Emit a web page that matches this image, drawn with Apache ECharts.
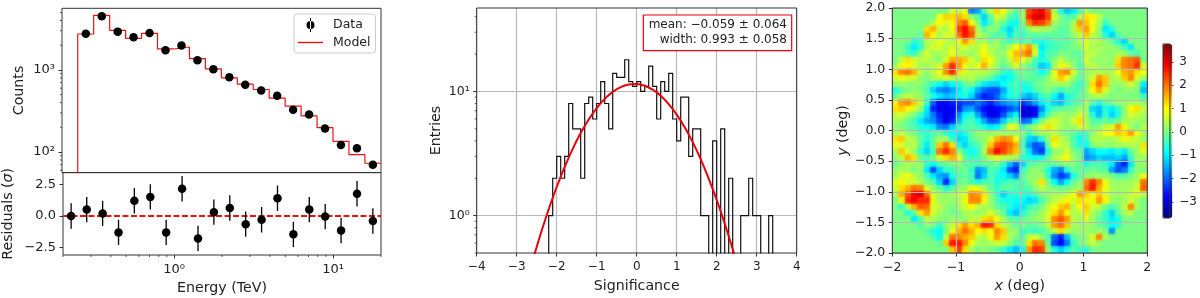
<!DOCTYPE html>
<html><head><meta charset="utf-8">
<style>html,body{margin:0;padding:0;background:#fff}#c{width:1200px;height:298px}</style>
<script src="https://cdn.jsdelivr.net/npm/echarts@6/dist/echarts.min.js"></script>
</head><body><div id="c"></div>
<script>
// ---------- Spectrum panel ----------
const binEdges = [0.251,0.316,0.398,0.501,0.631,0.794,1.0,1.259,1.585,1.995,2.512,3.162,3.981,5.012,6.31,7.943,10,12.59,15.85,20];
const modelCounts = [2735,4613,3033,2425,2786,1798,1900,1372,1028,800,670,577,453,362,276,198,135,93,73];
const dataEnergy = [0.282,0.355,0.447,0.562,0.708,0.891,1.122,1.413,1.778,2.239,2.818,3.548,4.467,5.623,7.079,8.913,11.22,14.13,17.78];
const dataCounts = [2761,4487,2924,2494,2812,1734,1977,1310,1019,815,658,561,483,327,286,194,122,111,70];
const residEnergy = [0.225,0.282,0.355,0.447,0.562,0.708,0.891,1.122,1.413,1.778,2.239,2.818,3.548,4.467,5.623,7.079,8.913,11.22,14.13,17.78];
const residuals = [0,0.5,0.2,-1.3,1.2,1.5,-1.3,2.15,-1.77,0.3,0.63,-0.65,-0.3,1.4,-1.45,0.5,-0.05,-1.15,1.75,-0.4];
const residErr = 1;
const energyMajorTicks = [1,10];
const energyMinorTicks = [0.2,0.3,0.4,0.5,0.6,0.7,0.8,0.9,2,3,4,5,6,7,8,9,20];
const countMajorTicks = [100,1000];
const countMinorTicks = [60,70,80,90,200,300,400,500,600,700,800,900,2000,3000,4000,5000];
const residTicks = [-2.5,0,2.5];
// ---------- Significance histogram ----------
const histStart = -2.2, histBinWidth = 0.1;
const histCounts = [1,2,3,2,3,8,5,5,2,8,9,6,8,12,8,5,14,13,13,18,12,11,12,10,11,16,11,6,12,10,14,6,4,9,9,3,5,5,1,1,0,4,0,5,0,2,0,0,1,1,2,1,1,0,0,1];
const fitX = [-2.6,-2.4,-2.2,-2,-1.8,-1.6,-1.4,-1.2,-1,-0.8,-0.6,-0.4,-0.2,0,0.2,0.4,0.6,0.8,1,1.2,1.4,1.6,1.8,2,2.2,2.4,2.6];
const fitY = [0.435,0.714,1.125,1.70,2.47,3.45,4.62,5.94,7.34,8.71,9.92,10.84,11.39,11.48,11.12,10.33,9.23,7.91,6.51,5.15,3.91,2.85,1.99,1.34,0.865,0.536,0.319];
const entryMajorTicks = [1,10];
const entryMinorTicks = [0.5,0.6,0.7,0.8,0.9,2,3,4,5,6,7,8,9,20,30,40];
const fitBoxLines = ['mean: \u22120.059 \u00b1 0.064','width: 0.993 \u00b1 0.058'];
// ---------- Significance map: estimates, cell size 0.1 deg, top row first, left column first ----------
const mapTenths = [
[0,0,0,0,0,0,0,0,0,8,5,10,-22,-18,-4,6,15,10,3,-3,2,28,32,34,26,4,-8,-15,-12,-4,4,0,0,0,0,0,0,0,0,0],
[0,0,0,0,0,0,0,10,15,15,18,14,2,-3,-14,-2,8,5,-3,-6,3,30,36,36,28,8,0,-4,-3,5,14,12,6,0,0,0,0,0,0,0],
[0,0,0,0,0,0,5,12,8,12,22,26,12,0,-12,-4,3,-2,-8,-10,0,22,30,28,22,3,0,-2,4,20,16,10,4,-6,0,0,0,0,0,0],
[0,0,0,0,0,14,18,6,5,10,28,33,24,4,-3,2,0,-8,-14,-6,-4,2,6,4,3,0,-3,-2,5,16,20,10,2,-12,-8,0,0,0,0,0],
[0,0,0,0,-2,18,12,4,8,8,24,32,26,6,2,-2,-4,-3,-12,-4,-6,-2,-3,-2,-3,-2,-3,-2,2,6,16,6,2,-8,-14,-4,0,0,0,0],
[0,0,0,-8,-4,5,6,9,6,4,12,20,14,3,5,0,3,-2,-5,-2,-4,-2,-8,-8,-6,-4,-2,-3,0,4,8,5,4,2,-2,-8,-14,0,0,0],
[0,0,-6,-12,-6,4,8,8,5,8,6,8,5,6,10,4,3,0,5,12,14,20,6,-12,-6,-5,-3,-2,0,2,8,4,4,3,2,0,-5,-12,0,0],
[0,0,-4,-6,2,8,3,4,5,10,5,4,2,6,12,6,2,2,10,17,20,24,8,-10,-4,-3,0,0,-2,-2,5,6,3,2,2,4,3,-2,-4,0],
[0,6,14,8,5,6,4,2,8,18,18,16,8,4,14,10,4,0,6,15,10,4,-4,-8,-5,2,6,2,0,-2,8,3,2,3,2,14,22,24,26,0],
[3,10,12,8,4,3,5,8,20,30,20,10,6,10,18,8,3,-3,2,8,2,-2,-6,-15,-12,3,10,8,2,-4,4,6,3,2,3,16,22,24,30,8],
[14,22,24,18,6,2,6,10,22,30,14,8,6,5,6,3,0,-6,-8,-2,0,-2,-4,-10,-4,10,20,22,8,-1,2,4,5,4,4,10,18,20,14,10],
[8,10,8,8,2,0,4,6,8,6,4,4,5,2,0,-3,-8,-12,-10,-5,-2,-2,-3,-3,2,8,16,10,3,-3,2,8,20,16,4,6,16,22,8,3],
[2,3,2,1,2,-2,-6,-10,-14,-10,-8,-2,0,-6,-12,-14,-14,-10,-6,-4,-8,-6,-2,0,2,3,4,3,-2,-6,0,14,24,16,3,2,4,8,2,-12],
[-8,-3,0,2,0,-4,-14,-20,-22,-18,-12,-6,-10,-18,-24,-26,-26,-18,-8,-5,-8,-10,-4,-2,2,-3,-6,-2,-4,-4,2,12,18,8,2,0,2,2,0,-16],
[-3,3,6,4,2,-3,-8,-12,-16,-14,-10,-8,-14,-24,-30,-28,-24,-14,-8,-6,-14,-18,-14,-6,-4,-10,-18,-8,-5,-2,0,4,6,3,0,2,0,0,0,-6],
[12,20,22,16,6,-6,-24,-32,-32,-30,-28,-26,-26,-22,-26,-30,-24,-20,-18,-16,-28,-24,-18,-12,-8,-14,-16,-8,-4,-2,4,-3,-8,-3,0,2,3,4,4,2],
[14,16,12,8,2,-12,-30,-34,-34,-32,-30,-20,-18,-26,-32,-34,-32,-30,-26,-22,-34,-36,-32,-20,-8,-4,-2,-1,0,3,2,-14,-16,-8,-12,-6,2,12,14,6],
[6,8,4,0,-6,-14,-22,-30,-34,-32,-20,-10,-8,-18,-28,-34,-34,-26,-16,-10,-34,-36,-34,-14,-4,2,4,2,3,8,4,-8,-16,-6,-14,-8,2,8,6,4],
[4,2,-2,-5,-12,-18,-20,-28,-34,-30,-16,-6,-4,-10,-18,-26,-24,-14,-4,-2,-24,-22,-10,0,6,8,5,2,8,14,4,-3,-4,-2,-4,0,4,4,3,2],
[2,0,-2,-4,-8,-10,-12,-20,-22,-14,-6,-4,-3,-5,-8,-12,-10,-2,10,8,-6,0,4,8,14,8,4,2,3,8,6,0,2,6,8,20,12,3,0,5],
[4,6,2,0,-4,-6,-3,-2,-6,-10,-12,-8,-2,2,3,2,4,3,3,2,2,-6,0,4,4,6,2,0,-2,-6,-4,2,6,10,12,16,14,20,10,4],
[14,16,6,4,-2,-8,-2,4,3,-6,-14,-12,-3,0,2,8,18,22,20,12,-3,-14,-16,-8,2,14,6,3,-4,-10,-6,4,5,4,4,6,10,8,6,2],
[10,8,4,6,-3,-12,-2,16,24,14,-8,-14,-6,-4,3,16,26,28,24,18,-4,-18,-26,-24,-2,10,6,5,-3,-8,-10,0,3,2,2,4,4,5,4,14],
[4,16,8,2,-6,-14,-4,24,30,22,2,-6,-10,-6,4,24,34,28,22,16,-2,-12,-24,-28,-8,2,3,8,0,-2,-18,-14,-10,-10,-12,-8,-12,-2,3,8],
[2,6,18,14,-2,-4,0,8,14,18,12,-3,-6,-4,0,6,8,6,5,4,-6,-8,-10,-8,-2,4,8,12,3,-1,-20,-18,-14,-16,-16,-14,-18,-6,3,2],
[-2,2,4,3,2,-6,-10,-3,-2,0,2,-2,-3,-4,-2,-3,0,-6,-16,-24,-14,-4,-2,0,-2,-2,0,2,1,-2,-8,-4,-4,-6,-12,-24,-30,-12,2,3],
[2,4,3,0,2,-12,-26,-14,-6,-5,-2,-1,-6,-20,-16,-3,-6,-12,-26,-30,-6,0,3,0,-8,-18,-22,-8,-2,-2,-2,0,-2,-3,-18,-26,-22,-6,2,0],
[4,8,10,6,2,-4,-12,-18,-20,-8,-3,-2,-5,-22,-14,-4,-8,-10,-14,-20,-3,2,2,3,-6,-20,-28,-24,-8,-2,2,3,3,2,0,-3,-3,0,3,10],
[8,12,8,8,4,0,-4,-14,-30,-14,-2,0,-4,-8,-4,-3,-8,-6,-4,-4,-4,0,4,14,0,-10,-18,-10,-2,2,22,30,22,10,3,2,3,3,6,24],
[6,14,18,24,22,8,2,-2,-8,-4,2,3,10,10,4,-2,-6,-2,-2,-4,-4,-3,2,6,2,0,-2,0,2,4,24,32,18,10,4,3,3,4,8,26],
[5,18,26,34,36,24,8,3,2,4,6,8,22,20,14,2,-6,-14,-8,-6,-6,-8,-4,0,2,4,4,6,10,20,16,10,16,8,4,3,4,6,8,6],
[0,10,30,34,30,30,10,3,3,2,4,10,22,22,12,2,-4,-8,-8,-10,-10,-14,-12,-4,2,6,8,12,8,14,12,10,20,12,3,2,4,8,3,0],
[0,-6,6,18,26,24,8,6,2,0,4,8,12,6,4,3,-2,-4,-8,-12,-12,-6,-3,0,6,10,16,18,5,12,16,8,6,0,-4,0,6,22,4,0],
[0,0,-8,-2,14,20,8,3,2,-1,0,4,4,2,4,8,3,-2,-12,-16,-8,-2,0,3,8,14,20,12,4,6,14,4,0,-6,-14,-3,4,6,0,0],
[0,0,0,-12,-3,6,4,2,0,3,2,2,6,6,14,16,10,3,-2,-4,-2,0,2,4,8,22,26,20,6,4,8,3,-2,-6,-12,-8,0,0,0,0],
[0,0,0,0,-4,2,0,-6,2,6,14,20,14,18,32,30,14,6,2,-2,0,-2,-2,0,6,20,24,16,4,2,4,2,-2,-4,-10,-8,0,0,0,0],
[0,0,0,0,0,-3,-8,-10,0,10,18,24,18,12,14,10,22,16,3,2,-6,-4,-6,-3,0,6,14,6,2,3,3,2,4,0,-20,0,0,0,0,0],
[0,0,0,0,0,0,-4,-10,6,24,22,18,16,6,4,12,20,14,4,0,-3,6,8,2,-4,-24,-30,-16,-3,0,2,8,22,4,0,0,0,0,0,0],
[0,0,0,0,0,0,0,-2,16,32,32,22,10,4,3,4,8,6,2,-4,-2,14,24,22,-2,-26,-32,-22,-6,0,3,6,2,0,0,0,0,0,0,0],
[0,0,0,0,0,0,0,0,0,16,28,14,4,0,2,0,-2,-6,-12,-16,-10,20,30,28,2,-8,-14,-8,-3,-6,-8,0,0,0,0,0,0,0,0,0]
];
const mapXStart = -2, mapYTop = 2, mapCell = 0.1, mapUnit = 0.085;
const colorMin = -3.69, colorMax = 3.77;
const colorbarTicks = [-3,-2,-1,0,1,2,3];
const jetColors = ['#00007f','#0000ff','#007fff','#00ffff','#7fff7f','#ffff00','#ff7f00','#ff0000','#7f0000'];

const axisColor = '#333', textColor = '#222', gridGrey = '#b8b8b8', FONT = 'DejaVu Sans', RED = '#ee1111';
const nameFS = 14.2;
const minus = v => String(v).replace('-', '\u2212');
const sup = {1:'10\u2070',10:'10\u00b9',100:'10\u00b2',1000:'10\u00b3'};
const lbl = (fontSize,margin) => ({color:textColor,fontFamily:FONT,fontSize,margin});
const nm = {color:textColor,fontFamily:FONT,fontSize:nameFS};
const noLine = {show:false,onZero:false};
const tick = {length:3.5,lineStyle:{color:axisColor,width:1}};

const modelLine = [[binEdges[0],30]];
modelCounts.forEach((c,i)=>{modelLine.push([binEdges[i],c]);modelLine.push([binEdges[i+1],c]);});
const histLine = [[histStart,0.01]];
histCounts.forEach((c,i)=>{
  const a = +(histStart+i*histBinWidth).toFixed(1), b = +(histStart+(i+1)*histBinWidth).toFixed(1);
  const y = c>0?c:0.01; histLine.push([a,y]); histLine.push([b,y]);
});
histLine.push([+(histStart+histCounts.length*histBinWidth).toFixed(1),0.01]);
const mapData = [];
mapTenths.forEach((row,r)=>row.forEach((v,c)=>{mapData.push([mapXStart+c*mapCell,mapYTop-r*mapCell,v*mapUnit]);}));

function minorTicks(ax, dim, values, len){
  return {type:'custom',xAxisIndex:ax,yAxisIndex:ax,silent:true,clip:false,z:6,
    encode:dim==='x'?{x:0}:{y:0},
    data:values.map(v=>[v]),
    renderItem(p,api){
      const cs=p.coordSys, v=api.value(0);
      let pt,shape;
      if(dim==='x'){pt=api.coord([v,1]);shape={x1:pt[0],y1:cs.y+cs.height,x2:pt[0],y2:cs.y+cs.height+len};}
      else{pt=api.coord([1,v]);shape={x1:cs.x,y1:pt[1],x2:cs.x-len,y2:pt[1]};}
      return {type:'line',shape,style:{stroke:axisColor,lineWidth:0.8}};
    }};
}
const g = (left,top,width,height,z)=>({left,top,width,height,show:true,borderColor:axisColor,borderWidth:1,backgroundColor:'transparent',z:z||2,containLabel:false});

const option = {
  animation:false,
  textStyle:{fontFamily:FONT},
  legend:{show:true,left:294,top:14,orient:'vertical',padding:[4,5,4,4],itemGap:4,itemWidth:25,itemHeight:14,
    backgroundColor:'rgba(255,255,255,0.8)',borderColor:'#ccc',borderWidth:1,borderRadius:3,
    textStyle:{color:textColor,fontFamily:FONT,fontSize:12.5,padding:[0,0,0,5]},
    data:[{name:'Data',icon:'path://M3.5 0h1v14h-1z M4 3a4 4 0 1 0 0.001 0z'},{name:'Model',icon:'path://M0 0h25v1.4h-25z'}]},
  grid:[g(62,8.3,319,164.3),g(62,172.6,319,82.4),g(476.7,8,320,247),g(892.3,8,255,247,5),g(1163,44,9.3,174,5)],
  xAxis:[
    {gridIndex:0,type:'log',logBase:10,min:0.2,max:20,axisLabel:{show:false},axisTick:{show:false},axisLine:noLine,splitLine:{show:false},minorTick:{show:false}},
    {gridIndex:1,type:'log',logBase:10,min:0.2,max:20,name:'Energy (TeV)',nameLocation:'middle',nameGap:26,nameTextStyle:nm,
     axisLine:noLine,axisTick:{...tick,customValues:energyMajorTicks},minorTick:{show:false},splitLine:{show:false},
     axisLabel:{...lbl(13,8),customValues:energyMajorTicks,formatter:v=>sup[Math.round(v)]||''}},
    {gridIndex:2,type:'value',min:-4,max:4,interval:1,name:'Significance',nameLocation:'middle',nameGap:26,nameTextStyle:nm,
     axisLine:noLine,axisTick:tick,axisLabel:{...lbl(12,8),formatter:minus},splitLine:{show:true,lineStyle:{color:gridGrey,width:1.2}}},
    {gridIndex:3,type:'value',min:-2,max:2,interval:1,z:3,name:'{i|x} (deg)',nameLocation:'middle',nameGap:26,
     nameTextStyle:{...nm,rich:{i:{...nm,fontStyle:'italic'}}},
     axisLine:noLine,axisTick:tick,axisLabel:{...lbl(12.5,8),formatter:minus},splitLine:{show:true,lineStyle:{color:gridGrey,width:1.2}}},
    {gridIndex:4,type:'value',min:0,max:1,show:false}
  ],
  yAxis:[
    {gridIndex:0,type:'log',logBase:10,min:56.2,max:5623,name:'Counts',nameLocation:'middle',nameGap:36,nameTextStyle:nm,
     axisLine:noLine,axisTick:{...tick,customValues:countMajorTicks},minorTick:{show:false},splitLine:{show:false},
     axisLabel:{...lbl(13,7),customValues:countMajorTicks,formatter:v=>sup[Math.round(v)]||''}},
    {gridIndex:1,type:'value',min:-3.08,max:3.42,name:'Residuals ({i|\u03c3})',nameLocation:'middle',nameGap:48,
     nameTextStyle:{...nm,rich:{i:{...nm,fontStyle:'italic'}}},
     axisLine:noLine,axisTick:{...tick,customValues:residTicks},splitLine:{show:false},
     axisLabel:{...lbl(13,7),customValues:residTicks,formatter:v=>minus(Number(v).toFixed(1))}},
    {gridIndex:2,type:'log',logBase:10,min:0.5,max:47,name:'Entries',nameLocation:'middle',nameGap:33,nameTextStyle:nm,
     axisLine:noLine,axisTick:{...tick,customValues:entryMajorTicks},minorTick:{show:false},
     splitLine:{show:true,lineStyle:{color:gridGrey,width:1.2}},
     axisLabel:{...lbl(12.5,7),customValues:entryMajorTicks,formatter:v=>sup[Math.round(v)]||''}},
    {gridIndex:3,type:'value',min:-2,max:2,interval:0.5,z:3,name:'{i|y} (deg)',nameLocation:'middle',nameGap:42,
     nameTextStyle:{...nm,rich:{i:{...nm,fontStyle:'italic'}}},
     axisLine:noLine,axisTick:tick,axisLabel:{...lbl(12.5,7),formatter:v=>minus(Number(v).toFixed(1))},splitLine:{show:true,lineStyle:{color:gridGrey,width:1.2}}},
    {gridIndex:4,type:'value',position:'right',min:colorMin,max:colorMax,axisLine:noLine,
     axisTick:{...tick,customValues:colorbarTicks},splitLine:{show:false},
     axisLabel:{...lbl(12,9.4),align:'left',customValues:colorbarTicks,formatter:minus}}
  ],
  visualMap:{type:'continuous',seriesIndex:[6,11],dimension:2,min:colorMin,max:colorMax,left:1163,top:44,itemWidth:9.3,itemHeight:174,
    padding:0,calculable:false,hoverLink:false,text:null,showLabel:false,inRange:{color:jetColors}},
  series:[
    {name:'Model',type:'line',xAxisIndex:0,yAxisIndex:0,data:modelLine,showSymbol:false,symbol:'none',clip:true,z:2,lineStyle:{color:RED,width:1.2},itemStyle:{color:RED}},
    {name:'Data',type:'scatter',xAxisIndex:0,yAxisIndex:0,data:dataEnergy.map((e,i)=>[e,dataCounts[i]]),symbolSize:8.5,itemStyle:{color:'#000',opacity:1},z:3,clip:true},
    {name:'zero',type:'line',xAxisIndex:1,yAxisIndex:1,data:[[0.2,0],[20,0]],showSymbol:false,symbol:'none',z:2,lineStyle:{color:RED,width:2,type:[6,2.5]}},
    {name:'residual errors',type:'custom',xAxisIndex:1,yAxisIndex:1,z:3,clip:true,
     encode:{x:0,y:[1,2]},data:residEnergy.map((e,i)=>[e,residuals[i]-residErr,residuals[i]+residErr]),
     renderItem(p,api){const a=api.coord([api.value(0),api.value(1)]),b=api.coord([api.value(0),api.value(2)]);
       return {type:'line',shape:{x1:a[0],y1:a[1],x2:b[0],y2:b[1]},style:{stroke:'#000',lineWidth:1.3}};}},
    {name:'residuals',type:'scatter',xAxisIndex:1,yAxisIndex:1,data:residEnergy.map((e,i)=>[e,residuals[i]]),symbolSize:8.5,itemStyle:{color:'#000',opacity:1},z:4},
    {name:'histogram',type:'line',xAxisIndex:2,yAxisIndex:2,data:histLine,showSymbol:false,symbol:'none',clip:true,z:2,lineStyle:{color:'#111',width:1.2,join:'miter'}},
    {name:'map',type:'custom',xAxisIndex:3,yAxisIndex:3,z:1,clip:true,
     encode:{x:0,y:1},data:mapData,dimensions:['x','y','sig'],
     renderItem(p,api){const x=api.value(0),y=api.value(1);
       const a=api.coord([x,y]),b=api.coord([x+mapCell,y-mapCell]);
       const x0=Math.floor(a[0]),y0=Math.floor(a[1]),x1=Math.ceil(b[0]),y1=Math.ceil(b[1]);
       return {type:'rect',shape:{x:x0,y:y0,width:x1-x0,height:y1-y0},style:{fill:api.visual('color')}};}},
    {name:'fit',type:'line',xAxisIndex:2,yAxisIndex:2,data:fitX.map((x,i)=>[x,fitY[i]]),smooth:0.3,showSymbol:false,symbol:'none',clip:true,z:3,lineStyle:{color:'#e8000b',width:2}},
    minorTicks(1,'x',energyMinorTicks,2),
    minorTicks(0,'y',countMinorTicks,2),
    minorTicks(2,'y',entryMinorTicks,2),
    {name:'map soft edges',type:'custom',xAxisIndex:3,yAxisIndex:3,z:2,clip:true,
     encode:{x:0,y:1},data:mapData,dimensions:['x','y','sig'],
     renderItem(p,api){const x=api.value(0),y=api.value(1);
       const a=api.coord([x-mapCell/2,y+mapCell/2]),b=api.coord([x+mapCell*1.5,y-mapCell*1.5]);
       const c=api.visual('color');
       return {type:'rect',shape:{x:a[0],y:a[1],width:b[0]-a[0],height:b[1]-a[1]},
         style:{fill:{type:'radial',x:0.5,y:0.5,r:0.5,colorStops:[{offset:0,color:echarts.color.modifyAlpha(c,0.85)},{offset:1,color:echarts.color.modifyAlpha(c,0)}]}}};}}
  ],
  graphic:[
    {type:'rect',z:20,shape:{x:643.3,y:15,width:148.4,height:35.7},style:{fill:'#fff',stroke:'#e8000b',lineWidth:1.2}},
    {type:'text',z:21,x:787,y:18,style:{text:fitBoxLines.join('\n'),align:'right',verticalAlign:'top',fontFamily:FONT,fontSize:12,lineHeight:14.5,fill:textColor}}
  ]
};
const chart = echarts.init(document.getElementById('c'),null,{renderer:'canvas'});
chart.setOption(option);
</script></body></html>
